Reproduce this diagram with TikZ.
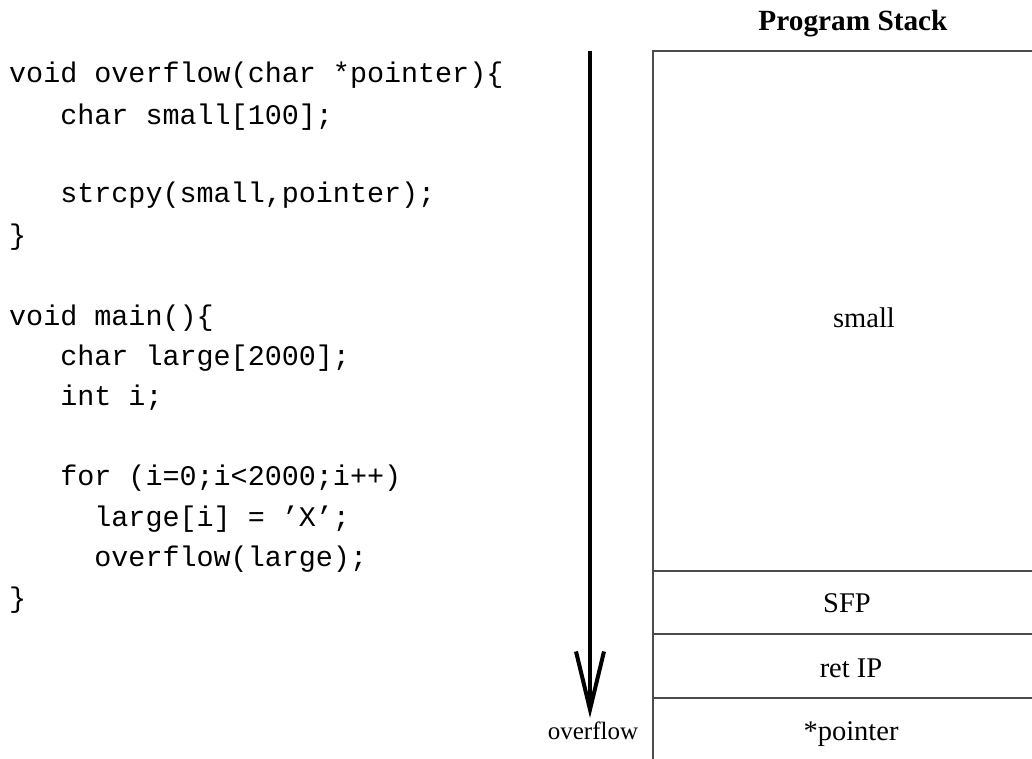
\documentclass[tikz,border=0pt]{standalone}
\usepackage{fontspec}
\setmainfont{Liberation Serif}
\setmonofont{Liberation Mono}
\usetikzlibrary{arrows.meta}
\tikzset{
  code/.style={anchor=base west, inner sep=0pt, font=\ttfamily\fontsize{28.4}{34}\selectfont},
  cell/.style={anchor=base, inner sep=0pt, font=\fontsize{28.5}{34}\selectfont},
  frame/.style={draw=black!70, line width=1.4pt},
  growth/.style={line width=4pt, -{Straight Barb[length=58pt, width=28pt]}}
}
\begin{document}
\begin{tikzpicture}[x=1pt, y=-1pt]
  \useasboundingbox (0,0) rectangle (1032,759);

  % source listing
  \node[code] (l1)  at (9,83)  {void overflow(char *pointer)\{};
  \node[code] (l2)  at (9,125) {\ \ \ char small[100];};
  \node[code] (l3)  at (9,203) {\ \ \ strcpy(small,pointer);};
  \node[code] (l4)  at (9,244) {\}};
  \node[code] (l5)  at (9,325) {void main()\{};
  \node[code] (l6)  at (9,365) {\ \ \ char large[2000];};
  \node[code] (l7)  at (9,405) {\ \ \ int i;};
  \node[code] (l8)  at (9,485) {\ \ \ for (i=0;i<2000;i++)};
  \node[code] (l9)  at (9,526) {\ \ \ \ \ large[i] = ’X’;};
  \node[code] (l10) at (9,566) {\ \ \ \ \ overflow(large);};
  \node[code] (l11) at (9,607) {\}};

  % direction of the overflow
  \coordinate (top) at (590,51);
  \coordinate (tip) at (590,718);
  \draw[growth] (top) -- (tip);
  \node[anchor=base, inner sep=0pt, font=\fontsize{25}{30}\selectfont] (ovf) at (593,739) {overflow};

  % stack frame
  \node[anchor=base, inner sep=0pt, font=\bfseries\fontsize{29.3}{34}\selectfont] (title) at (853,31) {Program Stack};
  \draw[frame] (1032,51) -- (653,51) -- (653,759);
  \draw[frame] (653,571) -- (1032,571);
  \draw[frame] (653,634) -- (1032,634);
  \draw[frame] (653,698) -- (1032,698);

  \node[cell] (small) at (864,327) {small};
  \node[cell] (sfp)   at (847,612) {SFP};
  \node[cell] (ret)   at (851,677) {ret IP};
  \node[cell] (ptr)   at (851,740) {*pointer};
\end{tikzpicture}
\end{document}
